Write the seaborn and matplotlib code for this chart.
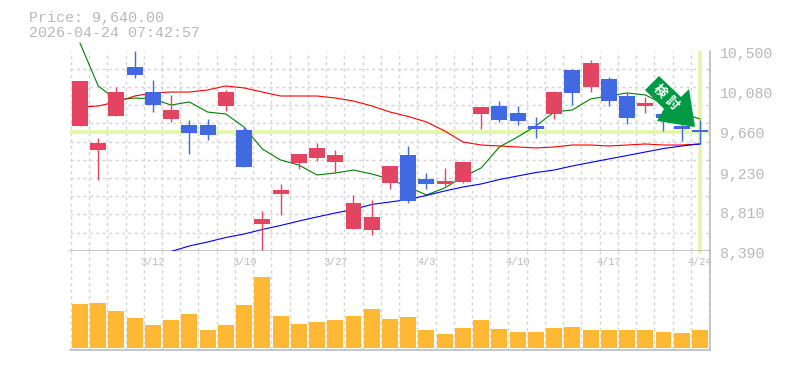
import matplotlib
matplotlib.use('Agg')
import matplotlib.pyplot as plt
import seaborn as sns
import pandas as pd
from matplotlib.patches import Polygon
from matplotlib.transforms import Affine2D, ScaledTranslation

# --- dados ---
price_txt = 'Price: 9,640.00'
time_txt = '2026-04-24 07:42:57'
last_price = 9640

open_p = [9706, 9452, 9811, 10328, 10064, 9780, 9716, 9716, 9917, 9664, 8672, 8988, 9315, 9368, 9326, 8619, 8609, 9104,
          9400, 9147, 9094, 9115, 9832, 9917, 9843, 9706, 9832, 10297, 10117, 10202, 10022, 9917, 9832, 9706, 9664]
close_p = [10180, 9526, 10064, 10244, 9927, 9875, 9632, 9611, 10064, 9273, 8725, 9031, 9410, 9474, 9400, 8893, 8746, 9284,
           8914, 9094, 9125, 9326, 9906, 9769, 9758, 9674, 10064, 10054, 10370, 9969, 9790, 9948, 9790, 9674, 9640]
high_p = [10180, 9579, 10117, 10500, 10191, 10033, 9769, 9780, 10086, 9695, 8809, 9094, 9410, 9526, 9452, 8978, 8925, 9284,
          9495, 9210, 9263, 9326, 9906, 9969, 9917, 9801, 10075, 10307, 10402, 10223, 10054, 10012, 9875, 9769, 9769]
low_p = [9706, 9136, 9811, 10212, 9853, 9748, 9410, 9558, 9864, 9273, 8397, 8767, 9252, 9336, 9210, 8619, 8556, 9041,
         8893, 9041, 9073, 9104, 9674, 9748, 9716, 9579, 9780, 9927, 10064, 9917, 9727, 9843, 9653, 9547, 9516]

ma_curta = [10581, 10128, 9980, 10001, 9991, 9927, 9959, 9853, 9832, 9695, 9463, 9347, 9294, 9189, 9210, 9241, 9199, 9147,
            9062, 8978, 9052, 9168, 9263, 9484, 9590, 9706, 9853, 9875, 9991, 10022, 10054, 10033, 9938, 9843, 9780]
ma_media = [9906, 9917, 9959, 10022, 10054, 10064, 10064, 10086, 10128, 10107, 10064, 10022, 10022, 10022, 10001, 9969, 9917, 9853,
            9806, 9748, 9653, 9537, 9505, 9495, 9484, 9474, 9484, 9505, 9505, 9495, 9505, 9516, 9505, 9505, 9516]
ma_longa = [8382, 8440, 8482, 8529, 8566, 8614, 8656, 8703, 8746, 8788, 8825, 8878, 8904, 8930, 8973, 9020, 9062, 9094,
            9141, 9178, 9215, 9241, 9284, 9321, 9358, 9394, 9431, 9468, 9495, 9516]

volume = [44, 45, 37, 30, 23, 28, 34, 18, 23, 43, 71, 32, 24, 26, 28, 32, 39, 29,
          31, 18, 14, 20, 28, 19, 16, 16, 20, 21, 18, 18, 18, 18, 16, 15, 18]

preco_ticks = [10500, 10080, 9660, 9230, 8810, 8390]
preco_labels = ['10,500', '10,080', '9,660', '9,230', '8,810', '8,390']
data_pos = [4, 9, 14, 19, 24, 29, 34]
data_labels = ['3/12', '3/19', '3/27', '4/3', '4/10', '4/17', '4/24']

# --- estilo ---
sns.set_style('white')
plt.rcParams['font.family'] = ['Liberation Mono', 'Noto Sans CJK JP', 'DejaVu Sans']

W, H = 785, 370
VERMELHO = '#E24462'
AZUL = '#4169E1'
CINZA = '#B8B8B8'
GRADE = '#D6D6D6'
DESTAQUE = '#E2F6A6'
LARANJA = '#FFB833'
VERDE_SETA = '#009944'

fig = plt.figure(figsize=(W / 100, H / 100), dpi=100)
esq, dir_, topo, meio, base = 70.3, 710, 50.7, 250.7, 350.3
ax = fig.add_axes([esq / W, 1 - meio / H, (dir_ - esq) / W, (meio - topo) / H])
ax_vol = fig.add_axes([esq / W, 1 - base / H, (dir_ - esq) / W, (base - meio) / H])

n = len(open_p)
x = list(range(n))
x_lim = (-0.53, 34.55)
grade_x = [i - 0.5 for i in range(n + 1)]
grade_y = [8390 + (10500 - 8390) * k / 11 for k in range(12)]

# --- medias moveis ---
sns.lineplot(x=x, y=ma_curta, color='green', linewidth=0.8, ax=ax, zorder=3, clip_on=False)
sns.lineplot(x=x, y=ma_media, color='red', linewidth=0.8, ax=ax, zorder=3)
sns.lineplot(x=x[n - len(ma_longa):], y=ma_longa, color='blue', linewidth=0.8, ax=ax, zorder=3, clip_on=False)

# --- linhas de destaque ---
ax.axhline(last_price, color=DESTAQUE, linewidth=2.6, zorder=2)
ax.axvline(n - 1, color=DESTAQUE, linewidth=2.6, zorder=2)
ax_vol.axvline(n - 1, ymin=0.985, color=DESTAQUE, linewidth=2.6, zorder=2)

# --- velas ---
for i in x:
    cor = VERMELHO if close_p[i] >= open_p[i] else AZUL
    ax.vlines(i, low_p[i], high_p[i], color=cor, linewidth=1.0, zorder=4, clip_on=False)
    ax.bar(i, abs(close_p[i] - open_p[i]), bottom=min(open_p[i], close_p[i]), width=0.875, color=cor, linewidth=0, zorder=5)

ax.set_xlim(*x_lim)
ax.set_ylim(8390, 10500)

# --- volume ---
df_vol = pd.DataFrame({'x': x, 'volume': volume})
sns.barplot(data=df_vol, x='x', y='volume', native_scale=True, color=LARANJA, saturation=1, width=0.875,
            linewidth=0, ax=ax_vol, zorder=3)
ax_vol.set_xlim(*x_lim)
ax_vol.set_ylim(-2.3, 97.3)
ax_vol.set_xlabel('')
ax_vol.set_ylabel('')
ax_vol.set_yticks([])

# --- grade ---
estilo_grade = dict(color=GRADE, linewidth=1.05, linestyle=(0, (2.2, 2.2)))
ax.set_xticks(grade_x, minor=True)
ax.set_yticks(grade_y, minor=True)
ax.grid(which='minor', **estilo_grade)
ax.set_axisbelow(True)
ax_vol.set_xticks(grade_x, minor=True)
ax_vol.grid(which='minor', axis='x', **estilo_grade)
ax_vol.set_axisbelow(True)
for a in (ax, ax_vol):
    a.tick_params(which='both', length=0)

for a in (ax, ax_vol):
    for lado in ['top', 'left']:
        a.spines[lado].set_visible(False)
    for lado in ['right', 'bottom']:
        a.spines[lado].set_visible(True)
        a.spines[lado].set_color(CINZA)
        a.spines[lado].set_linewidth(1.1)

# --- rotulos ---
ax.yaxis.tick_right()
ax.set_yticks(preco_ticks, preco_labels)
ax.tick_params(axis='y', which='major', pad=7, labelsize=10.7, labelcolor=CINZA)
for t in ax.get_yticklabels():
    t.set_transform(t.get_transform() + ScaledTranslation(0, -2.0 / 100, fig.dpi_scale_trans))
ax.set_xticks([])
ax.set_xticks(grade_x, minor=True)

ax_vol.set_xticks(data_pos, data_labels)
ax_vol.xaxis.tick_top()
ax_vol.tick_params(axis='x', which='major', direction='in', pad=-11.5, labelsize=7.3, labelcolor=CINZA)

fig.text(29 / W, 1 - 18 / H, price_txt, color=CINZA, fontsize=10.8, va='center', ha='left')
fig.text(29 / W, 1 - 33 / H, time_txt, color=CINZA, fontsize=10.8, va='center', ha='left')

# --- seta ---
px = Affine2D().scale(1 / W, -1 / H).translate(0, 1) + fig.transFigure
seta = [(659, 76), (681, 97), (689, 89), (695, 127), (657, 121), (664, 109), (645, 90)]
fig.add_artist(Polygon(seta, closed=True, facecolor=VERDE_SETA, edgecolor='none', transform=px, zorder=10))
fig.text(659 / W, 1 - 92 / H, '検', color='white', fontsize=9.5, fontweight='bold', rotation=-45,
         ha='center', va='center', zorder=11)
fig.text(671 / W, 1 - 103.5 / H, '討', color='white', fontsize=9.5, fontweight='bold', rotation=-45,
         ha='center', va='center', zorder=11)

plt.savefig('out.png', dpi=100)
plt.close()
